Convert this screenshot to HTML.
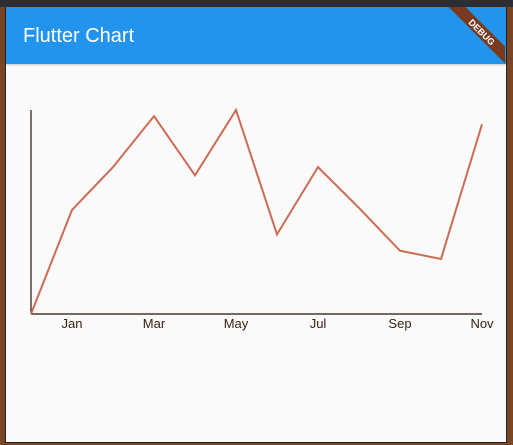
<!DOCTYPE html>
<html><head><meta charset="utf-8"><style>
body{margin:0;width:513px;height:445px;overflow:hidden;background:#7a4525;font-family:"Liberation Sans",sans-serif;position:relative}
#top{position:absolute;left:0;top:0;width:513px;height:7px;background:#2d2e33}
#frame{position:absolute;left:5px;top:7px;width:500px;height:435px;background:#fafafa;border-left:1px solid #222;border-right:1px solid #222;border-bottom:1px solid #222}
#bar{position:absolute;left:0;top:0;width:500px;height:57px;background:#2394ee;box-shadow:0 1px 2px rgba(0,0,0,.2)}
#title{position:absolute;left:17px;top:18px;color:#fff;font-size:20px}
</style></head><body>
<div id="top"></div>
<div id="frame">
<div id="bar"><div id="title">Flutter Chart</div></div>
</div>
<svg id="chart" width="513" height="445" style="position:absolute;left:0;top:0">
<defs><clipPath id="bc"><rect x="6" y="7" width="499" height="57"/></clipPath></defs>
<g clip-path="url(#bc)">
<g transform="translate(482,32) rotate(45)">
<rect x="-50" y="-6" width="100" height="12" fill="#7a3a20"/>
<text x="0" y="3.5" text-anchor="middle" font-size="9" font-weight="bold" fill="#fff" font-family="Liberation Sans,sans-serif">DEBUG</text>
</g>
</g>
</svg>
<script>
const categories=["Dec","Jan","Feb","Mar","Apr","May","Jun","Jul","Aug","Sep","Oct","Nov"];
const values=[0,51,72,97,68,100,39,72,52,31,27,93];
const labelIdx=[1,3,5,7,9,11];
const svg=document.getElementById('chart');
const NS='http://www.w3.org/2000/svg';
const x0=31,x1=482,yB=314,yT=110;
const xs=i=>x0+i*(x1-x0)/(categories.length-1);
const ys=v=>yB-v/100*(yB-yT);
function mk(t,a){const e=document.createElementNS(NS,t);for(const k in a)e.setAttribute(k,a[k]);svg.appendChild(e);return e;}
const ya=mk('line',{x1:x0,y1:yT,x2:x0,y2:yB,stroke:'#2a1208','stroke-width':1.2});


const xa=mk('line',{x1:x0,y1:yB,x2:x1,y2:yB,stroke:'#2a1208','stroke-width':1.2});


const ln=mk('polyline',{points:values.map((v,i)=>xs(i)+','+ys(v)).join(' '),fill:'none',stroke:'#cd6b55','stroke-width':2,'stroke-linejoin':'miter'});


labelIdx.forEach(i=>{const t=mk('text',{x:xs(i),y:328,'text-anchor':'middle','font-size':13,fill:'#3a2015','font-family':'Liberation Sans,sans-serif'});t.textContent=categories[i];

});
</script>
</body></html>
